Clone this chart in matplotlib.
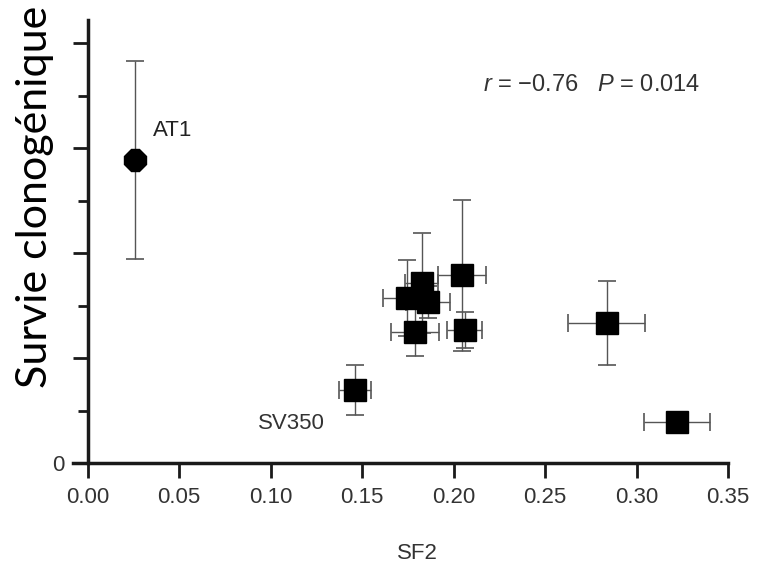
import matplotlib
matplotlib.use("Agg")
import matplotlib.pyplot as plt
from matplotlib.ticker import MultipleLocator, FuncFormatter

plt.rcParams["font.family"] = "Liberation Sans"
plt.rcParams["mathtext.fontset"] = "custom"
plt.rcParams["mathtext.it"] = "Liberation Sans:italic"
plt.rcParams["mathtext.rm"] = "Liberation Sans"

# SF2 (x) vs survie clonogénique (y, arbitrary units: one major tick = 1)
sf2 = [0.0257, 0.146, 0.1745, 0.1827, 0.186, 0.179, 0.2045, 0.206, 0.2838, 0.322]
surv = [2.886, 0.695, 1.571, 1.714, 1.533, 1.248, 1.79, 1.267, 1.333, 0.39]
sf2_err = [0.0, 0.0088, 0.013, 0.009, 0.012, 0.013, 0.013, 0.0095, 0.021, 0.018]
surv_err = [0.943, 0.24, 0.36, 0.48, 0.15, 0.23, 0.72, 0.17, 0.40, 0.0]
markers = ["8", "s", "s", "s", "s", "s", "s", "s", "s", "s"]

x_ticks = [0.00, 0.05, 0.10, 0.15, 0.20, 0.25, 0.30, 0.35]

W, H = 763, 566
fig = plt.figure(figsize=(W / 100, H / 100), dpi=100)
ax = fig.add_axes([73 / W, 1 - 463 / H, (728 - 73) / W, (463 - 20) / H])

for x, y, xe, ye, m in zip(sf2, surv, sf2_err, surv_err, markers):
    ax.errorbar(x, y, xerr=xe if xe else None, yerr=ye if ye else None,
                fmt=m, color="black", ms=16.5, ecolor="#555555",
                elinewidth=1.0, capsize=6.5, capthick=1.2, zorder=3)

ax.set_xlim(-0.008, 0.35)
ax.set_ylim(0, 4.22)
ax.spines["left"].set_position(("data", 0))
ax.spines["top"].set_visible(False)
ax.spines["right"].set_visible(False)
for s in ("left", "bottom"):
    ax.spines[s].set_linewidth(2.5)
    ax.spines[s].set_color("#1a1a1a")

ax.set_xticks(x_ticks)
ax.set_xticklabels(["%.2f" % v for v in x_ticks])
ax.yaxis.set_major_locator(MultipleLocator(1))
ax.yaxis.set_minor_locator(MultipleLocator(0.5))
ax.yaxis.set_major_formatter(FuncFormatter(lambda v, p: "0" if v == 0 else ""))
ax.tick_params(axis="both", which="major", direction="out", length=11, width=2,
               color="#1a1a1a", labelsize=16, labelcolor="#333333", pad=6)
ax.tick_params(axis="y", which="minor", direction="out", length=7, width=2,
               color="#1a1a1a")

ax.set_xlabel("SF2", fontsize=16, color="#333333")
ax.xaxis.set_label_coords((417 - 73) / 655, -0.18)

ax.text(0.0355, 3.17, "AT1", fontsize=16, color="#222222", va="center", ha="left")
ax.text(0.1296, 0.38, "SV350", fontsize=16, color="#333333", va="center", ha="right")
ax.text(0.216, 3.6, "$r$ = \u22120.76   $P$ = 0.014", fontsize=17, color="#333333",
        va="center", ha="left")

fig.text(35 / W, 1 - 197 / H, "Survie clonog\u00e9nique", rotation=90,
         fontsize=31, family="Lato", ha="center", va="center", color="black")

fig.savefig("out.png", dpi=100)
